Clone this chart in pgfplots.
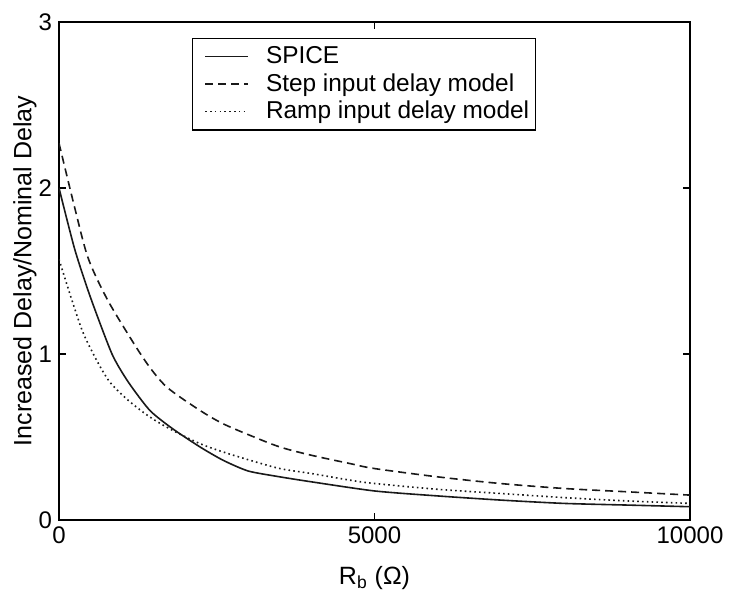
\documentclass[border=0pt]{standalone}
\usepackage{pgfplots}
\pgfplotsset{compat=1.18}
\usepackage{fontspec}
\setmainfont{Liberation Sans}
\begin{document}
\begin{tikzpicture}
\useasboundingbox (-29.5pt,-35.5pt) rectangle (335.5pt,260pt);
\begin{axis}[
  scale only axis,
  width=315.5pt, height=249pt,
  xmin=0, xmax=10000, ymin=0, ymax=3,
  xtick={0,5000,10000}, ytick={0,1,2,3},
  scaled ticks=false,
  /pgf/number format/assume math mode=true,
  /pgf/number format/set thousands separator={},
  tick align=inside,
  major tick length=3.5pt,
  tick style={black, line width=0.6pt},
  axis line style={line width=0.8pt},
  font=\fontsize{12.5}{14}\selectfont,
  ticklabel style={font=\fontsize{12}{13}\selectfont},
  xlabel={R\textsubscript{b} (Ω)},
  ylabel={Increased Delay/Nominal Delay},
  xlabel style={at={(axis description cs:0.5,-0.116)}, anchor=center},
  ylabel style={at={(axis description cs:-0.054,0.5)}, anchor=center},
  legend style={at={(0.483,0.968)}, anchor=north, draw=black, line width=0.6pt,
    font=\fontsize{12.2}{14}\selectfont, row sep=-0.5pt, inner sep=2pt,
    nodes={inner xsep=1pt}},
  legend cell align=left,
  legend image code/.code={\path (-4pt,0pt) (29pt,0pt);\draw[#1] (0pt,0pt) -- (21.5pt,0pt);},
]
\addplot[black!90, line width=0.8pt, smooth, tension=0.4] coordinates {
(0,2.00) (250,1.63) (500,1.34) (840,1.00) (1100,0.83) (1440,0.66) (1800,0.55)
(2235,0.44) (2600,0.36) (3000,0.295) (3500,0.26) (4000,0.23) (5000,0.175)
(6000,0.145) (7000,0.12) (8000,0.10) (9000,0.09) (10000,0.08)};
\addlegendentry{SPICE}
\addplot[black!90, line width=0.8pt, dash pattern=on 4pt off 2.5pt, smooth, tension=0.5] coordinates {
(0,2.27) (250,1.88) (460,1.58) (750,1.34) (1077,1.13) (1400,0.94) (1711,0.80)
(2235,0.66) (2600,0.58) (3027,0.51) (3500,0.44) (4000,0.39) (4612,0.34)
(5000,0.31) (6000,0.26) (6989,0.22) (8000,0.19) (9000,0.17) (10000,0.15)};
\addlegendentry{Step input delay model}
\addplot[black!90, line width=0.8pt, dash pattern=on 0.8pt off 1.6pt, smooth, tension=0.5] coordinates {
(0,1.57) (200,1.33) (380,1.13) (600,0.96) (808,0.83) (1100,0.72) (1442,0.62)
(1800,0.54) (2235,0.46) (2600,0.41) (3027,0.36) (3500,0.31) (4000,0.28)
(4612,0.24) (5000,0.22) (6000,0.185) (6989,0.16) (8000,0.135) (9000,0.115) (10000,0.10)};
\addlegendentry{Ramp input delay model}
\end{axis}
\end{tikzpicture}
\end{document}
